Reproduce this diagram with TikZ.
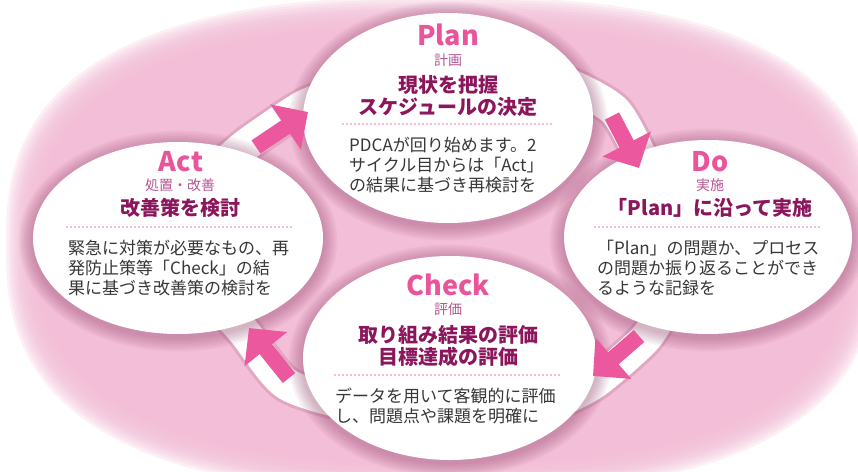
\documentclass[tikz,border=0pt]{standalone}
\usepackage{fontspec}
\setmainfont{Noto Sans CJK JP}
\usetikzlibrary{arrows.meta,calc,shapes.geometric}
\definecolor{bgpink}{RGB}{243,190,215}
\definecolor{arrowpink}{RGB}{236,88,158}
\definecolor{headpink}{RGB}{234,84,155}
\definecolor{subpink}{RGB}{180,85,145}
\definecolor{titlec}{RGB}{140,22,92}
\definecolor{bodyc}{RGB}{55,55,55}
\definecolor{dotc}{RGB}{242,120,175}
\definecolor{shadowc}{RGB}{150,70,110}
\begin{document}
\begin{tikzpicture}[x=1pt,y=-1pt,
  bubble/.style={ellipse, fill=white, inner sep=0pt},
  headtxt/.style={font=\fontsize{27}{27}\selectfont\bfseries, text=headpink, inner sep=0pt},
  subtxt/.style={font=\fontsize{14}{14}\selectfont, text=subpink, inner sep=0pt},
  titletxt/.style={font=\fontsize{20}{21.5}\selectfont\bfseries, text=titlec, align=center, inner sep=0pt},
  bodytxt/.style={font=\fontsize{17}{20}\selectfont, text=bodyc, align=left, inner sep=0pt, anchor=north west},
  dotline/.style={draw=dotc, line width=1.8pt, line cap=round, dash pattern=on 0pt off 4pt},
  band/.style={line width=32pt, draw=white, line cap=round},
  bandshade/.style={line width=38pt, draw=shadowc, draw opacity=0.2, line cap=round},
  cyc/.style={draw=arrowpink, line width=16pt, -{Triangle[width=53pt,length=27pt]}},
]
\useasboundingbox (0,0) rectangle (858,471);
\fill[white] (0,0) rectangle (858,471);
% pink glow background
\foreach \k in {0,...,11}{
  \pgfmathsetmacro{\ra}{436-2.7*\k}
  \pgfmathsetmacro{\rb}{248-2.7*\k}
  \fill[bgpink, opacity=0.22] plot[smooth cycle, domain=2.5:357.5, samples=72]
    ({442+\ra*sign(cos(\x))*pow(abs(cos(\x)),0.77)},{245+\rb*sign(sin(\x))*pow(abs(sin(\x)),0.77)});
}
\fill[bgpink] plot[smooth cycle, domain=2.5:357.5, samples=72]
    ({442+404*sign(cos(\x))*pow(abs(cos(\x)),0.77)},{245+216*sign(sin(\x))*pow(abs(sin(\x)),0.77)});
% arrow coordinates
\coordinate (a1s) at (256,147); \coordinate (a1t) at (308,112);
\coordinate (a2s) at (612,116); \coordinate (a2t) at (639,168);
\coordinate (a3s) at (639,336); \coordinate (a3t) at (593,376);
\coordinate (a4s) at (289,378); \coordinate (a4t) at (249,328);
% white bands
\foreach \s in {bandshade,band}{
  \draw[\s] plot[smooth] coordinates {(222,166) (250,142) (304,106) (335,96)};
  \draw[\s] plot[smooth] coordinates {(570,85) (615,111) (645,164) (662,186)};
  \draw[\s] plot[smooth] coordinates {(662,312) (644,340) (597,381) (566,398)};
  \draw[\s] plot[smooth] coordinates {(340,402) (285,383) (244,332) (222,308)};
}
% ellipse shadows
\foreach \ca/\cb/\ra/\rb in {448/118/145/105, 178/238/145/96, 708/237/144/97, 450/358/147/102}{
  \foreach \k in {1,...,8}{
    \fill[shadowc, opacity=0.06] (\ca,\cb+3) ellipse ({(\ra+1.8*\k)*1pt} and {(\rb+1.8*\k)*1pt});
  }
}
% ellipses
\node[bubble, minimum width=290pt, minimum height=210pt] (plan) at (448,118) {};
\node[bubble, minimum width=290pt, minimum height=192pt] (act) at (178,238) {};
\node[bubble, minimum width=288pt, minimum height=194pt] (do) at (708,237) {};
\node[bubble, minimum width=294pt, minimum height=204pt] (check) at (450,358) {};
% arrows
\draw[cyc] (a1s) -- (a1t);
\draw[cyc] (a2s) -- (a2t);
\draw[cyc] (a3s) -- (a3t);
\draw[cyc] (a4s) -- (a4t);
% Plan
\node[headtxt] (planH) at (448,35) {Plan};
\node[subtxt] (planS) at (448,60) {計画};
\node[titletxt] (planT) at (448,96) {現状を把握\\スケジュールの決定};
\coordinate (planL) at (343,124); \coordinate (planR) at (552,124);
\draw[dotline] (planL) -- (planR);
\node[bodytxt] (planB) at (349,137) {PDCAが回り始めます。2\\サイクル目からは「Act」\\の結果に基づき再検討を};
% Act
\node[headtxt] (actH) at (181,162) {Act};
\node[subtxt] (actS) at (180,185) {処置・改善};
\node[titletxt] (actT) at (180,208) {改善策を検討};
\coordinate (actL) at (67,227); \coordinate (actR) at (293,227);
\draw[dotline] (actL) -- (actR);
\node[bodytxt] (actB) at (68,240) {緊急に対策が必要なもの、再\\発防止策等「Check」の結\\果に基づき改善策の検討を};
% Do
\node[headtxt] (doH) at (710,162) {Do};
\node[subtxt] (doS) at (710,185) {実施};
\node[titletxt] (doT) at (710,208) {「Plan」に沿って実施};
\coordinate (doL) at (595,227); \coordinate (doR) at (820,227);
\draw[dotline] (doL) -- (doR);
\node[bodytxt] (doB) at (597,240) {「Plan」の問題か、プロセス\\の問題か振り返ることができ\\るような記録を};
% Check
\node[headtxt] (checkH) at (448,285) {Check};
\node[subtxt] (checkS) at (448,309) {評価};
\node[titletxt] (checkT) at (448,346) {取り組み結果の評価\\目標達成の評価};
\coordinate (checkL) at (335,375); \coordinate (checkR) at (560,375);
\draw[dotline] (checkL) -- (checkR);
\node[bodytxt] (checkB) at (335,388) {データを用いて客観的に評価\\し、問題点や課題を明確に};
\end{tikzpicture}
\end{document}
